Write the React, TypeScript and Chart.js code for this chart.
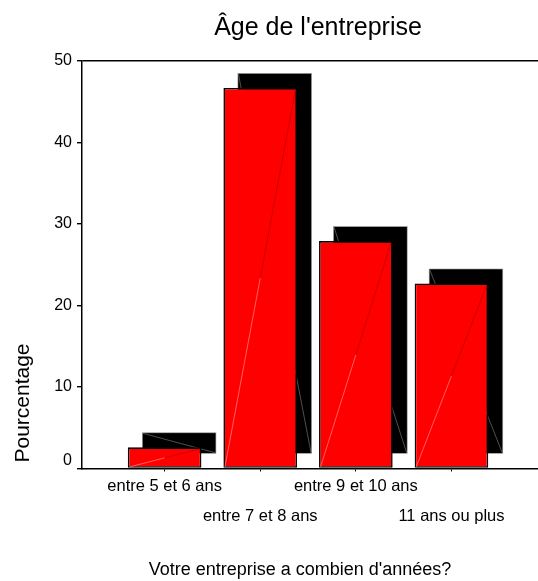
import React, { useEffect, useRef } from 'react';
import { Chart, registerables } from 'chart.js';

Chart.register(...registerables);

// ---- data ----
const TITLE = "Âge de l'entreprise";
const X_TITLE = "Votre entreprise a combien d'années?";
const Y_TITLE = 'Pourcentage';
const CATEGORIES = ['entre 5 et 6 ans', 'entre 7 et 8 ans', 'entre 9 et 10 ans', '11 ans ou plus'];
const PERCENTAGES = [2.6, 46.7, 27.9, 22.7];
const Y_MIN = 0;
const Y_MAX = 50;
const Y_STEP = 10;
// x range (category index units) leaving room left and right as in the reference
const X_MIN = -0.864;
const X_MAX = 3.905;

const FONT = "'Liberation Sans', Arial, Helvetica, sans-serif";
const DEPTH = 14.5;

const depthPlugin = {
  id: 'depthPlugin',
  beforeDatasetsDraw(chart: any) {
    const ctx = chart.ctx;
    const meta = chart.getDatasetMeta(0);
    ctx.save();
    meta.data.forEach((el: any) => {
      const { x, y, base, width } = el.getProps(['x', 'y', 'base', 'width'], true);
      const l = x - width / 2 + DEPTH;
      const t = y - DEPTH;
      const h = base - y;
      ctx.fillStyle = '#000';
      ctx.fillRect(l, t, width, h);
      ctx.strokeStyle = '#a0a0a0';
      ctx.lineWidth = 0.6;
      ctx.strokeRect(l, t, width, h);
      ctx.beginPath();
      ctx.moveTo(l + 0.5, t + 0.5);
      ctx.lineTo(l + width - 0.5, t + h - 0.5);
      ctx.strokeStyle = '#707070';
      ctx.lineWidth = 0.7;
      ctx.stroke();
    });
    ctx.restore();
  },
  afterDatasetsDraw(chart: any) {
    const ctx = chart.ctx;
    const meta = chart.getDatasetMeta(0);
    ctx.save();
    meta.data.forEach((el: any) => {
      const { x, y, base, width } = el.getProps(['x', 'y', 'base', 'width'], true);
      const l = x - width / 2 + 1.5;
      const r = x + width / 2 - 1.5;
      const b = base - 0.8;
      const t = y + 1.5;
      const mx = (l + r) / 2;
      const my = (b + t) / 2;
      ctx.lineWidth = 0.7;
      ctx.beginPath();
      ctx.moveTo(l, b);
      ctx.lineTo(mx, my);
      ctx.strokeStyle = '#ff8a8a';
      ctx.stroke();
      ctx.beginPath();
      ctx.moveTo(mx, my);
      ctx.lineTo(r, t);
      ctx.strokeStyle = '#b80000';
      ctx.stroke();
    });
    ctx.restore();
  },
};

const titlesPlugin = {
  id: 'titlesPlugin',
  afterDraw(chart: any) {
    const { ctx, chartArea: a } = chart;
    const cx = (a.left + a.right) / 2;
    ctx.save();
    ctx.fillStyle = '#000';
    ctx.textBaseline = 'alphabetic';
    ctx.textAlign = 'center';
    ctx.font = `25px ${FONT}`;
    ctx.fillText(TITLE, cx + 8, a.top - 26);
    ctx.font = `18px ${FONT}`;
    ctx.fillText(X_TITLE, cx - 10, a.bottom + 106.5);
    ctx.translate(a.left - 53.5, a.bottom - 65.5);
    ctx.rotate(-Math.PI / 2);
    ctx.font = `21px ${FONT}`;
    ctx.fillText(Y_TITLE, 0, 0);
    ctx.restore();
  },
};

export default function App() {
  const canvasRef = useRef<HTMLCanvasElement | null>(null);

  useEffect(() => {
    document.body.style.margin = '0';
    const canvas = canvasRef.current;
    if (!canvas) return;
    const chart = new Chart(canvas, {
      type: 'bar',
      data: {
        datasets: [
          {
            label: Y_TITLE,
            data: PERCENTAGES.map((v, i) => ({ x: i, y: v })),
            backgroundColor: '#ff0000',
            borderColor: '#000000',
            borderWidth: 1.6,
            borderSkipped: false,
            categoryPercentage: 1,
            barPercentage: 0.77,
          },
        ],
      },
      options: {
        responsive: false,
        animation: false,
        devicePixelRatio: 1,
        layout: { padding: { top: 61, left: 0, right: 0, bottom: 0 } },
        plugins: {
          legend: { display: false },
          tooltip: { enabled: false },
          title: { display: false },
        },
        scales: {
          x: {
            type: 'linear',
            min: X_MIN,
            max: X_MAX,
            offset: false,
            afterFit: (scale: any) => {
              scale.height = 112.5;
            },
            grid: {
              display: true,
              offset: false,
              drawOnChartArea: false,
              drawTicks: true,
              tickLength: 3,
              color: '#000',
              lineWidth: 1,
            },
            border: { display: true, color: '#000', width: 1.5 },
            ticks: {
              stepSize: 1,
              includeBounds: false,
              autoSkip: false,
              maxRotation: 0,
              minRotation: 0,
              padding: 0,
              color: '#000',
              font: { family: FONT, size: 16.5, lineHeight: '29.7px' },
              callback: (value: any) => {
                const i = Math.round(Number(value));
                if (Math.abs(i - Number(value)) > 1e-6 || i < 0 || i >= CATEGORIES.length) return '';
                return i % 2 === 0 ? CATEGORIES[i] : ['', CATEGORIES[i]];
              },
            },
          },
          y: {
            type: 'linear',
            min: Y_MIN,
            max: Y_MAX,
            afterFit: (scale: any) => {
              scale.width = 82;
            },
            grid: {
              display: true,
              drawOnChartArea: true,
              drawTicks: true,
              tickLength: 5,
              color: (c: any) => (c.tick && c.tick.value === Y_MAX ? '#000' : 'rgba(0,0,0,0)'),
              tickColor: '#000',
              lineWidth: 1.4,
            },
            border: { display: true, color: '#000', width: 1.5 },
            ticks: {
              stepSize: Y_STEP,
              padding: 5,
              color: '#000',
              font: { family: FONT, size: 16, lineHeight: '16px' },
              callback: (value: any) => (Number(value) === Y_MIN ? [String(value), ''] : String(value)),
            },
          },
        },
      },
      plugins: [depthPlugin, titlesPlugin],
    } as any);
    return () => chart.destroy();
  }, []);

  return (
    <div style={{ width: 538, height: 581 }}>
      <canvas ref={canvasRef} width={538} height={581} style={{ display: 'block' }} />
    </div>
  );
}
